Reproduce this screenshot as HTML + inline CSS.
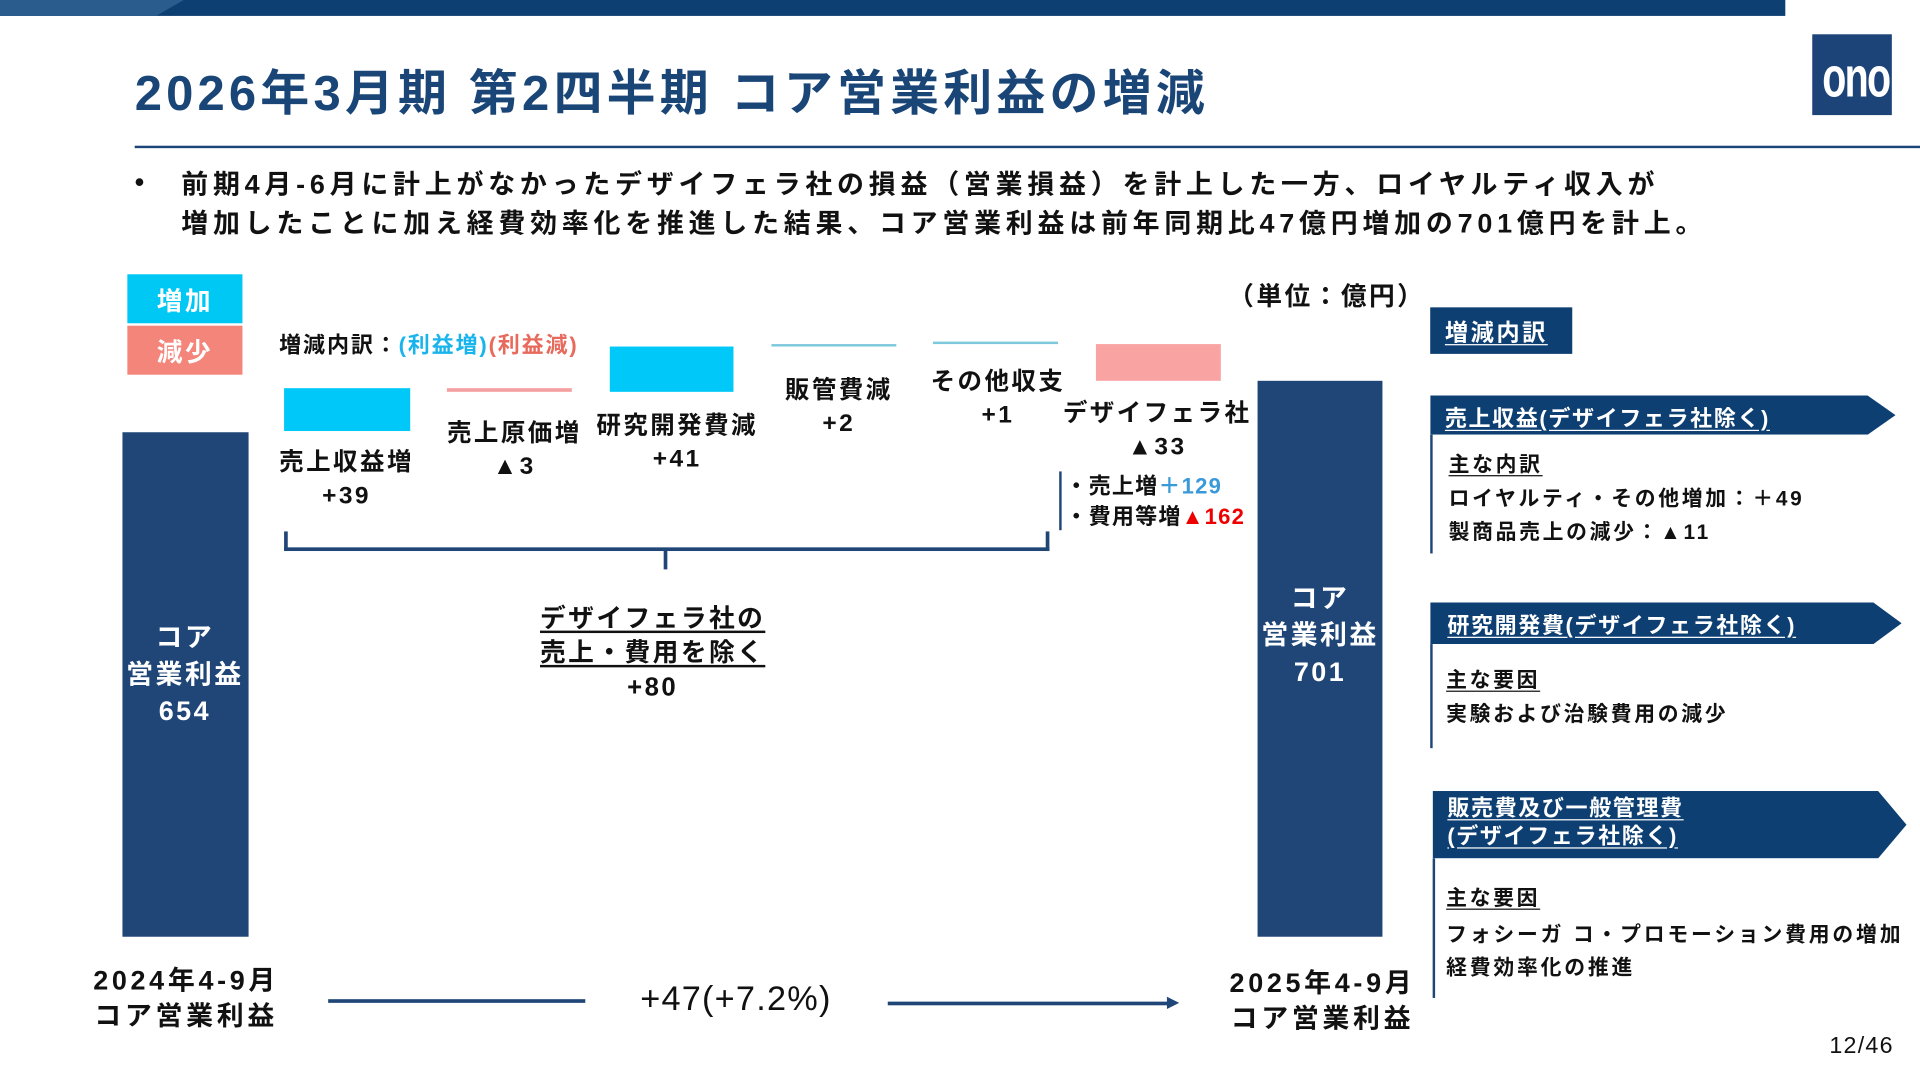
<!DOCTYPE html>
<html><head><meta charset="utf-8"><style>
html,body{margin:0;padding:0;background:#fff;}
body{width:1920px;height:1080px;overflow:hidden;position:relative;}
#c{position:absolute;left:0;top:0;width:1568px;height:882px;transform:scale(1.22449);transform-origin:0 0;font-family:"Liberation Sans","Noto Sans CJK JP",sans-serif;color:#111;}
.a{position:absolute;white-space:nowrap;letter-spacing:2px;}
.b{font-weight:bold;}
.ctr{transform:translateX(-50%);text-align:center;}
.bx{position:absolute;}
.u{text-decoration:underline;text-underline-offset:3px;}
</style></head><body><div id="c">
<div class="bx" style="left:0;top:0;width:1458px;height:13px;background:#0e3f72;"></div>
<div class="bx" style="left:0;top:0;width:150px;height:13px;background:#2a5d8e;clip-path:polygon(0 0,100% 0,85% 100%,0 100%);"></div>
<div class="bx" style="left:1480px;top:28px;width:65px;height:66px;background:#1c4478;"></div>
<div class="a b" style="left:1478px;top:36px;width:68px;text-align:center;color:#fff;font-size:46px;letter-spacing:-2px;transform:scaleX(0.7);">ono</div>
<div class="a b" style="left:110px;top:44px;font-size:40px;color:#1a4577;letter-spacing:3.4px;">2026年3月期 第2四半期 コア営業利益の増減</div>
<div class="bx" style="left:110px;top:119px;width:1458px;height:2px;background:#1c4478;"></div>
<div class="a b" style="left:110px;top:136px;font-size:22px;">•</div>
<div class="a b" style="left:148px;top:135px;font-size:22px;line-height:32px;letter-spacing:3.9px;">前期4月-6月に計上がなかったデザイフェラ社の損益（営業損益）を計上した一方、ロイヤルティ収入が<br>増加したことに加え経費効率化を推進した結果、コア営業利益は前年同期比47億円増加の701億円を計上。</div>

<div class="bx" style="left:104px;top:224px;width:94px;height:40px;background:#00c8f4;"></div>
<div class="a b ctr" style="left:151px;top:230px;font-size:21px;color:#fff;">増加</div>
<div class="bx" style="left:104px;top:266px;width:94px;height:40px;background:#f4857a;"></div>
<div class="a b ctr" style="left:151px;top:272px;font-size:21px;color:#fff;">減少</div>
<div class="a b" style="left:228px;top:268px;font-size:18px;letter-spacing:1.5px;">増減内訳：<span style="color:#1ab4ec">(利益増)</span><span style="color:#e86a5c">(利益減)</span></div>
<div class="a b" style="left:1003px;top:226px;font-size:21px;">（単位：億円）</div>

<div class="bx" style="left:100px;top:353px;width:103px;height:412px;background:#1f4677;"></div>
<div class="bx" style="left:1027px;top:311px;width:102px;height:454px;background:#1f4677;"></div>
<div class="bx" style="left:232px;top:317px;width:103px;height:35px;background:#00c8f8;"></div>
<div class="bx" style="left:365px;top:317px;width:102px;height:3px;background:#f4a0a0;"></div>
<div class="bx" style="left:498px;top:283px;width:101px;height:37px;background:#00c8f8;"></div>
<div class="bx" style="left:630px;top:281px;width:102px;height:2px;background:#7cc8dc;"></div>
<div class="bx" style="left:762px;top:279px;width:102px;height:2px;background:#7cc8dc;"></div>
<div class="bx" style="left:895px;top:281px;width:102px;height:30px;background:#f9a3a3;"></div>

<div class="a b ctr" style="left:283px;top:365px;font-size:20px;line-height:27px;">売上収益増<br>+39</div>
<div class="a b ctr" style="left:420px;top:341px;font-size:20px;line-height:27px;">売上原価増<br>▲3</div>
<div class="a b ctr" style="left:553px;top:335px;font-size:20px;line-height:27px;">研究開発費減<br>+41</div>
<div class="a b ctr" style="left:685px;top:306px;font-size:20px;line-height:27px;">販管費減<br>+2</div>
<div class="a b ctr" style="left:815px;top:299px;font-size:20px;line-height:27px;">その他収支<br>+1</div>
<div class="a b ctr" style="left:945px;top:325px;font-size:20px;line-height:27px;">デザイフェラ社<br>▲33</div>
<div class="bx" style="left:865px;top:385px;width:2px;height:48px;background:#1f4677;"></div>
<div class="a b" style="left:870px;top:385px;font-size:18px;line-height:25px;letter-spacing:1px;">・売上増<span style="color:#3a9ad9">＋129</span><br>・費用等増<span style="color:#e00">▲162</span></div>

<div class="bx" style="left:232px;top:434px;width:619px;height:13px;border:3px solid #1f4677;border-top:none;"></div>
<div class="bx" style="left:542px;top:448px;width:3px;height:17px;background:#1f4677;"></div>
<div class="a b ctr" style="left:533px;top:492px;font-size:21px;line-height:28px;"><span class="u">デザイフェラ社の</span><br><span class="u">売上・費用を除く</span><br>+80</div>

<div class="a b ctr" style="left:151px;top:506px;font-size:22px;line-height:30px;color:#fff;">コア<br>営業利益<br>654</div>
<div class="a b ctr" style="left:1078px;top:474px;font-size:22px;line-height:30px;color:#fff;">コア<br>営業利益<br>701</div>

<div class="a b ctr" style="left:152px;top:786px;font-size:22px;line-height:29px;letter-spacing:3px;">2024年4-9月<br>コア営業利益</div>
<div class="a b ctr" style="left:1080px;top:788px;font-size:22px;line-height:29px;letter-spacing:3px;">2025年4-9月<br>コア営業利益</div>
<div class="bx" style="left:268px;top:816px;width:210px;height:3px;background:#1f4677;"></div>
<div class="a ctr" style="left:601px;top:800px;font-size:28px;letter-spacing:1px;">+47(+7.2%)</div>
<div class="bx" style="left:725px;top:818px;width:230px;height:3px;background:#1f4677;"></div>
<div class="bx" style="left:953px;top:814px;width:0;height:0;border-left:10px solid #1f4677;border-top:5px solid transparent;border-bottom:5px solid transparent;"></div>

<div class="bx" style="left:1168px;top:251px;width:116px;height:38px;background:#0e3f72;"></div>
<div class="a b u" style="left:1180px;top:257px;font-size:19px;color:#fff;">増減内訳</div>

<div class="bx" style="left:1168px;top:323px;width:380px;height:32px;background:#0e3f72;clip-path:polygon(0 0,94% 0,100% 50%,94% 100%,0 100%);"></div>
<div class="a b u" style="left:1180px;top:328px;font-size:18px;color:#fff;letter-spacing:1.3px;">売上収益(デザイフェラ社除く)</div>
<div class="bx" style="left:1168px;top:355px;width:2px;height:97px;background:#1f4677;"></div>
<div class="a b" style="left:1183px;top:366px;font-size:17px;line-height:27.5px;letter-spacing:2.2px;"><span class="u">主な内訳</span><br>ロイヤルティ・その他増加：＋49<br>製商品売上の減少：▲11</div>

<div class="bx" style="left:1168px;top:492px;width:385px;height:34px;background:#0e3f72;clip-path:polygon(0 0,94% 0,100% 50%,94% 100%,0 100%);"></div>
<div class="a b u" style="left:1182px;top:497px;font-size:18px;color:#fff;letter-spacing:1.3px;">研究開発費(デザイフェラ社除く)</div>
<div class="bx" style="left:1168px;top:526px;width:2px;height:85px;background:#1f4677;"></div>
<div class="a b" style="left:1181px;top:542px;font-size:17px;line-height:28px;letter-spacing:2.2px;"><span class="u">主な要因</span><br>実験および治験費用の減少</div>

<div class="bx" style="left:1170px;top:646px;width:387px;height:55px;background:#0e3f72;clip-path:polygon(0 0,94% 0,100% 50%,94% 100%,0 100%);"></div>
<div class="a b u" style="left:1182px;top:649px;font-size:18px;line-height:23px;color:#fff;letter-spacing:1.3px;">販売費及び一般管理費<br>(デザイフェラ社除く)</div>
<div class="bx" style="left:1170px;top:701px;width:2px;height:114px;background:#1f4677;"></div>
<div class="a b" style="left:1181px;top:719px;font-size:17px;line-height:29px;letter-spacing:2.2px;"><span class="u">主な要因</span></div>
<div class="a b" style="left:1181px;top:750px;font-size:17px;line-height:27px;letter-spacing:2.3px;">フォシーガ コ・プロモーション費用の増加<br>経費効率化の推進</div>
<div class="a" style="left:1494px;top:844px;font-size:19px;letter-spacing:1px;">12/46</div>
</div></body></html>
